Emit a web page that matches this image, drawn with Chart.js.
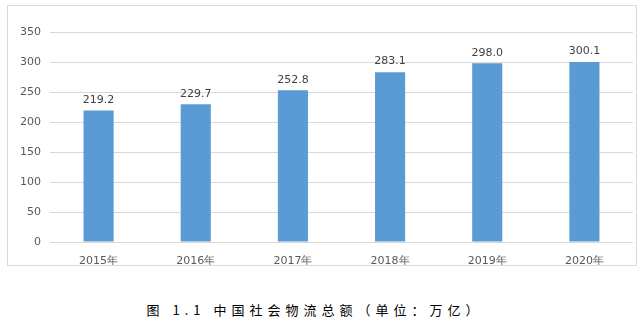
<!DOCTYPE html>
<html>
<head>
<meta charset="utf-8">
<script src="https://cdn.jsdelivr.net/npm/chart.js@4.4.0/dist/chart.umd.min.js"></script>
<style>
  html, body { margin: 0; padding: 0; background: #fff; }
  body { width: 640px; height: 327px; position: relative; overflow: hidden; }
  .box { position: absolute; left: 7px; top: 5px; width: 628px; height: 259px; border: 1px solid #d9d9d9; }
  .caption { position: absolute; left: -5px; top: 300px; width: 640px; text-align: center;
    font-family: "Noto Sans CJK SC", sans-serif; font-size: 13px; letter-spacing: 5px; color: #000; }
</style>
</head>
<body>
<div class="box"><canvas id="bar-chart-logistics" width="628" height="259"></canvas></div>
<div class="caption">图 1.1 中国社会物流总额（单位：万亿）</div>
<script>
const years = ['2015年', '2016年', '2017年', '2018年', '2019年', '2020年'];
const totals = [219.2, 229.7, 252.8, 283.1, 298.0, 300.1];
const yTicks = [0, 50, 100, 150, 200, 250, 300, 350];

// labels above each bar
const valueLabels = {
  id: 'valueLabels',
  afterDatasetsDraw(chart) {
    const ctx = chart.ctx;
    const meta = chart.getDatasetMeta(0);
    ctx.save();
    ctx.font = '11px "DejaVu Sans"';
    ctx.fillStyle = '#404040';
    ctx.textAlign = 'center';
    ctx.textBaseline = 'bottom';
    meta.data.forEach((bar, i) => {
      ctx.fillText(totals[i].toFixed(1), bar.x, bar.y - 5);
    });
    ctx.restore();
  }
};

let ctx = document.getElementById('bar-chart-logistics').getContext('2d');
window.logisticsBar = new Chart(ctx, {
  type: 'bar',
  data: {
    labels: years,
    datasets: [{
      data: totals,
      backgroundColor: '#5b9bd5',
      categoryPercentage: 1,
      barPercentage: 0.31
    }]
  },
  options: {
    responsive: false,
    animation: false,
    layout: { padding: { top: 26, right: 3, left: 0, bottom: 0 } },
    plugins: { legend: { display: false }, tooltip: { enabled: false } },
    scales: {
      x: {
        grid: { display: false },
        border: { display: false },
        ticks: { color: '#595959', font: { family: '"DejaVu Sans"', size: 11 }, padding: 5 },
        afterFit(scale) { scale.height = 23; }
      },
      y: {
        min: 0,
        max: 350,
        afterBuildTicks(scale) { scale.ticks = yTicks.map(v => ({ value: v })); },
        grid: { color: '#d9d9d9', drawTicks: false },
        border: { display: false },
        ticks: { color: '#595959', font: { family: '"DejaVu Sans"', size: 11 }, padding: 9 },
        afterFit(scale) { scale.width = 42; }
      }
    }
  },
  plugins: [valueLabels]
});
</script>
</body>
</html>
